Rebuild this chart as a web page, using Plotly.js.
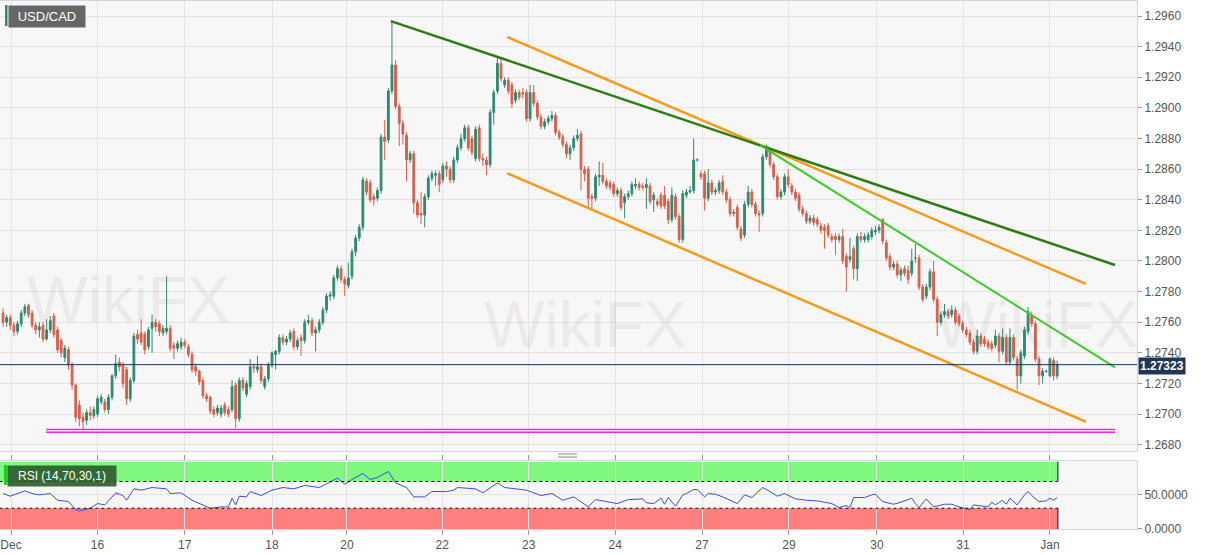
<!DOCTYPE html>
<html>
<head>
<meta charset="utf-8">
<script src="https://cdn.plot.ly/plotly-3.0.1.min.js"></script>
<style>
html,body{margin:0;padding:0;background:#fff;}
#chart{width:1207px;height:555px;}
</style>
</head>
<body>
<div id="chart"></div>
<script>
// ---- Hourly USD/CAD candles ----
const open = [1.2766,1.2760,1.2763,1.2758,1.2754,1.2759,1.2766,1.2771,1.2766,1.2758,1.2755,1.2758,1.2749,1.2755,1.2764,1.2755,1.2748,1.2737,1.2742,1.2732,1.2719,1.2706,1.2698,1.2696,1.2701,1.2699,1.2700,1.2708,1.2708,1.2703,1.2711,1.2725,1.2734,1.2732,1.2729,1.2710,1.2722,1.2752,1.2753,1.2752,1.2744,1.2756,1.2760,1.2759,1.2753,1.2754,1.2756,1.2745,1.2743,1.2744,1.2747,1.2744,1.2739,1.2731,1.2728,1.2722,1.2712,1.2711,1.2703,1.2701,1.2700,1.2706,1.2703,1.2703,1.2719,1.2697,1.2722,1.2713,1.2718,1.2731,1.2729,1.2731,1.2718,1.2723,1.2732,1.2739,1.2741,1.2750,1.2747,1.2749,1.2754,1.2744,1.2750,1.2748,1.2760,1.2761,1.2753,1.2755,1.2760,1.2768,1.2777,1.2777,1.2789,1.2795,1.2788,1.2784,1.2790,1.2806,1.2815,1.2822,1.2852,1.2851,1.2842,1.2841,1.2846,1.2881,1.2879,1.2911,1.2928,1.2901,1.2890,1.2882,1.2866,1.2870,1.2838,1.2831,1.2830,1.2842,1.2854,1.2856,1.2857,1.2853,1.2862,1.2860,1.2853,1.2866,1.2874,1.2880,1.2887,1.2880,1.2867,1.2887,1.2867,1.2866,1.2863,1.2897,1.2911,1.2929,1.2915,1.2918,1.2915,1.2905,1.2910,1.2910,1.2910,1.2893,1.2910,1.2903,1.2894,1.2888,1.2891,1.2893,1.2895,1.2884,1.2881,1.2876,1.2870,1.2874,1.2880,1.2883,1.2860,1.2860,1.2842,1.2841,1.2855,1.2856,1.2852,1.2851,1.2850,1.2844,1.2846,1.2838,1.2842,1.2844,1.2849,1.2850,1.2849,1.2848,1.2849,1.2840,1.2839,1.2843,1.2843,1.2839,1.2827,1.2842,1.2829,1.2814,1.2843,1.2845,1.2846,1.2866,1.2857,1.2857,1.2841,1.2851,1.2845,1.2846,1.2852,1.2845,1.2840,1.2832,1.2835,1.2821,1.2817,1.2837,1.2845,1.2837,1.2831,1.2831,1.2868,1.2872,1.2863,1.2855,1.2842,1.2845,1.2855,1.2849,1.2845,1.2843,1.2834,1.2831,1.2826,1.2828,1.2827,1.2823,1.2822,1.2823,1.2816,1.2816,1.2814,1.2816,1.2803,1.2801,1.2808,1.2795,1.2816,1.2814,1.2814,1.2816,1.2819,1.2820,1.2827,1.2812,1.2803,1.2796,1.2798,1.2791,1.2795,1.2794,1.2792,1.2802,1.2802,1.2783,1.2777,1.2783,1.2793,1.2775,1.2760,1.2765,1.2767,1.2765,1.2768,1.2764,1.2759,1.2755,1.2753,1.2747,1.2741,1.2751,1.2749,1.2747,1.2746,1.2745,1.2751,1.2741,1.2750,1.2734,1.2750,1.2736,1.2725,1.2738,1.2754,1.2764,1.2759,1.2736,1.2725,1.2728,1.2725,1.2735,1.2725];
const high = [1.2769,1.2765,1.2765,1.2760,1.2761,1.2768,1.2772,1.2772,1.2768,1.2760,1.2760,1.2760,1.2762,1.2764,1.2766,1.2757,1.2750,1.2745,1.2744,1.2734,1.2720,1.2709,1.2701,1.2703,1.2705,1.2705,1.2712,1.2713,1.2710,1.2713,1.2726,1.2739,1.2737,1.2734,1.2731,1.2724,1.2753,1.2755,1.2762,1.2754,1.2757,1.2765,1.2762,1.2761,1.2758,1.2790,1.2758,1.2747,1.2748,1.2750,1.2749,1.2746,1.2741,1.2733,1.2729,1.2724,1.2714,1.2712,1.2705,1.2706,1.2706,1.2708,1.2705,1.2722,1.2721,1.2724,1.2724,1.2722,1.2736,1.2733,1.2738,1.2733,1.2725,1.2734,1.2741,1.2742,1.2752,1.2752,1.2751,1.2755,1.2756,1.2750,1.2752,1.2762,1.2765,1.2763,1.2757,1.2762,1.2770,1.2779,1.2780,1.2791,1.2797,1.2797,1.2790,1.2799,1.2808,1.2817,1.2824,1.2855,1.2854,1.2853,1.2844,1.2848,1.2883,1.2892,1.2913,1.2957,1.2931,1.2903,1.2892,1.2884,1.2872,1.2872,1.2840,1.2845,1.2844,1.2856,1.2859,1.2859,1.2859,1.2864,1.2865,1.2862,1.2868,1.2876,1.2883,1.2889,1.2889,1.2882,1.2888,1.2889,1.2870,1.2868,1.2899,1.2912,1.2933,1.2932,1.2920,1.2920,1.2917,1.2912,1.2912,1.2913,1.2912,1.2915,1.2915,1.2905,1.2896,1.2893,1.2895,1.2898,1.2897,1.2886,1.2883,1.2878,1.2876,1.2882,1.2886,1.2885,1.2862,1.2862,1.2844,1.2857,1.2865,1.2864,1.2854,1.2853,1.2852,1.2848,1.2848,1.2844,1.2846,1.2852,1.2854,1.2852,1.2851,1.2854,1.2851,1.2845,1.2841,1.2845,1.2849,1.2841,1.2848,1.2844,1.2831,1.2846,1.2847,1.2849,1.2880,1.2867,1.2859,1.2859,1.2860,1.2853,1.2848,1.2853,1.2856,1.2847,1.2842,1.2834,1.2837,1.2823,1.2839,1.2849,1.2847,1.2839,1.2833,1.2870,1.2876,1.2874,1.2865,1.2857,1.2847,1.2857,1.2860,1.2851,1.2847,1.2845,1.2836,1.2833,1.2830,1.2830,1.2829,1.2825,1.2824,1.2825,1.2818,1.2818,1.2818,1.2821,1.2805,1.2815,1.2810,1.2818,1.2819,1.2818,1.2819,1.2822,1.2823,1.2824,1.2828,1.2814,1.2805,1.2800,1.2800,1.2796,1.2797,1.2797,1.2808,1.2811,1.2804,1.2785,1.2785,1.2795,1.2800,1.2777,1.2767,1.2772,1.2769,1.2771,1.2770,1.2766,1.2761,1.2757,1.2755,1.2749,1.2755,1.2753,1.2751,1.2749,1.2748,1.2755,1.2753,1.2756,1.2752,1.2756,1.2752,1.2738,1.2742,1.2757,1.2770,1.2767,1.2761,1.2738,1.2730,1.2729,1.2737,1.2737,1.2735];
const low = [1.2757,1.2757,1.2755,1.2751,1.2752,1.2757,1.2764,1.2763,1.2756,1.2752,1.2750,1.2747,1.2748,1.2753,1.2750,1.2740,1.2737,1.2734,1.2729,1.2716,1.2695,1.2692,1.2690,1.2693,1.2696,1.2697,1.2698,1.2706,1.2701,1.2700,1.2709,1.2723,1.2728,1.2717,1.2706,1.2708,1.2720,1.2746,1.2745,1.2739,1.2742,1.2740,1.2754,1.2751,1.2751,1.2752,1.2741,1.2736,1.2741,1.2742,1.2743,1.2737,1.2727,1.2725,1.2719,1.2710,1.2708,1.2700,1.2698,1.2699,1.2698,1.2699,1.2698,1.2701,1.2691,1.2695,1.2715,1.2711,1.2716,1.2727,1.2727,1.2720,1.2716,1.2721,1.2730,1.2729,1.2739,1.2745,1.2745,1.2747,1.2742,1.2742,1.2738,1.2746,1.2758,1.2751,1.2741,1.2753,1.2758,1.2766,1.2774,1.2775,1.2787,1.2786,1.2777,1.2782,1.2788,1.2803,1.2813,1.2820,1.2843,1.2838,1.2836,1.2839,1.2844,1.2866,1.2877,1.2909,1.2899,1.2875,1.2876,1.2852,1.2864,1.2831,1.2828,1.2824,1.2822,1.2840,1.2852,1.2849,1.2845,1.2851,1.2855,1.2851,1.2851,1.2864,1.2872,1.2878,1.2872,1.2869,1.2865,1.2865,1.2862,1.2856,1.2861,1.2889,1.2909,1.2917,1.2913,1.2909,1.2900,1.2903,1.2905,1.2906,1.2891,1.2891,1.2901,1.2892,1.2886,1.2886,1.2889,1.2891,1.2882,1.2879,1.2874,1.2867,1.2866,1.2872,1.2878,1.2846,1.2852,1.2835,1.2834,1.2839,1.2849,1.2850,1.2847,1.2846,1.2842,1.2842,1.2833,1.2828,1.2840,1.2842,1.2847,1.2846,1.2846,1.2834,1.2837,1.2832,1.2835,1.2834,1.2834,1.2824,1.2825,1.2827,1.2812,1.2812,1.2841,1.2844,1.2844,1.2865,1.2853,1.2833,1.2839,1.2843,1.2843,1.2844,1.2843,1.2838,1.2829,1.2829,1.2820,1.2813,1.2815,1.2835,1.2835,1.2829,1.2819,1.2829,1.2866,1.2861,1.2853,1.2840,1.2840,1.2843,1.2848,1.2843,1.2839,1.2832,1.2829,1.2824,1.2824,1.2823,1.2822,1.2818,1.2808,1.2815,1.2812,1.2804,1.2812,1.2798,1.2780,1.2799,1.2788,1.2787,1.2812,1.2812,1.2812,1.2814,1.2817,1.2818,1.2811,1.2800,1.2794,1.2794,1.2789,1.2787,1.2790,1.2785,1.2790,1.2799,1.2781,1.2773,1.2775,1.2781,1.2773,1.2751,1.2758,1.2763,1.2762,1.2763,1.2758,1.2757,1.2753,1.2750,1.2745,1.2739,1.2739,1.2744,1.2744,1.2742,1.2741,1.2743,1.2734,1.2739,1.2732,1.2732,1.2735,1.2716,1.2720,1.2736,1.2752,1.2757,1.2734,1.2719,1.2720,1.2727,1.2724,1.2722,1.2723];
const close = [1.2760,1.2763,1.2758,1.2754,1.2759,1.2766,1.2770,1.2765,1.2758,1.2755,1.2757,1.2749,1.2755,1.2761,1.2752,1.2742,1.2740,1.2743,1.2732,1.2719,1.2698,1.2697,1.2695,1.2701,1.2699,1.2703,1.2710,1.2711,1.2703,1.2711,1.2725,1.2733,1.2731,1.2720,1.2710,1.2722,1.2751,1.2749,1.2747,1.2742,1.2755,1.2760,1.2757,1.2754,1.2756,1.2756,1.2743,1.2743,1.2746,1.2747,1.2745,1.2739,1.2729,1.2728,1.2721,1.2712,1.2710,1.2702,1.2700,1.2704,1.2704,1.2701,1.2700,1.2718,1.2697,1.2722,1.2717,1.2720,1.2731,1.2730,1.2731,1.2722,1.2723,1.2732,1.2740,1.2741,1.2750,1.2747,1.2749,1.2753,1.2744,1.2748,1.2748,1.2760,1.2761,1.2753,1.2755,1.2760,1.2768,1.2777,1.2778,1.2789,1.2795,1.2788,1.2785,1.2789,1.2806,1.2815,1.2822,1.2853,1.2845,1.2840,1.2840,1.2846,1.2881,1.2878,1.2911,1.2928,1.2901,1.2890,1.2883,1.2866,1.2870,1.2838,1.2830,1.2830,1.2842,1.2854,1.2857,1.2857,1.2850,1.2862,1.2860,1.2853,1.2866,1.2874,1.2880,1.2887,1.2874,1.2871,1.2886,1.2867,1.2866,1.2863,1.2897,1.2910,1.2929,1.2919,1.2918,1.2911,1.2903,1.2910,1.2907,1.2909,1.2893,1.2910,1.2903,1.2894,1.2888,1.2891,1.2893,1.2895,1.2884,1.2881,1.2876,1.2870,1.2874,1.2880,1.2882,1.2860,1.2857,1.2841,1.2841,1.2855,1.2856,1.2852,1.2849,1.2848,1.2844,1.2846,1.2835,1.2842,1.2844,1.2850,1.2850,1.2848,1.2848,1.2850,1.2839,1.2843,1.2837,1.2836,1.2836,1.2827,1.2843,1.2829,1.2814,1.2844,1.2845,1.2846,1.2866,1.2866,1.2855,1.2841,1.2851,1.2845,1.2846,1.2851,1.2845,1.2840,1.2831,1.2831,1.2822,1.2815,1.2837,1.2845,1.2837,1.2831,1.2830,1.2868,1.2873,1.2863,1.2855,1.2842,1.2845,1.2855,1.2850,1.2845,1.2841,1.2834,1.2831,1.2826,1.2828,1.2825,1.2824,1.2820,1.2820,1.2817,1.2814,1.2814,1.2816,1.2800,1.2796,1.2803,1.2795,1.2816,1.2814,1.2816,1.2817,1.2820,1.2820,1.2822,1.2813,1.2802,1.2796,1.2798,1.2791,1.2794,1.2792,1.2788,1.2800,1.2802,1.2783,1.2775,1.2783,1.2793,1.2775,1.2760,1.2765,1.2767,1.2764,1.2768,1.2760,1.2759,1.2755,1.2752,1.2747,1.2741,1.2751,1.2746,1.2746,1.2744,1.2743,1.2751,1.2741,1.2750,1.2734,1.2750,1.2737,1.2725,1.2740,1.2755,1.2767,1.2759,1.2736,1.2725,1.2728,1.2728,1.2736,1.2725,1.27323];

// ---- RSI(14) readings (candle index, value) ----
const rsiIdx = [0,2,6,8,10,13,15,18,20,21,24,26,28,31,33,34,36,38,41,45,46,49,52,55,57,60,62,63,64,65,67,68,71,74,77,80,83,87,90,92,94,96,99,101,103,105,106,108,111,113,116,118,122,124,125,130,132,136,138,144,148,151,154,157,159,161,163,166,169,172,176,177,179,181,182,183,185,187,188,190,191,193,194,196,198,202,204,206,209,211,213,215,218,221,224,228,230,232,233,234,237,239,240,242,245,247,250,251,252,254,256,259,261,263,266,267,270,271,272,273,275,276,277,279,281,282,283,285,287,288,289,290];
const rsiVal = [52,48,56,52,50,52,42,40,28,26,30,37,35,53,49,42,59,57,61,59,52,53,42,35,30,32,32,45,35,48,47,55,49,57,61,59,64,61,70,75,66,73,82,73,76,82,85,68,61,47,47,55,55,57,61,59,53,68,61,57,49,52,42,47,40,32,43,40,37,43,44,38,37,45,36,46,33,50,52,58,58,47,52,51,47,37,50,46,61,55,48,52,44,42,41,37,31,34,31,46,46,50,51,40,36,39,45,37,31,44,32,36,36,32,28,35,32,32,39,35,42,36,45,35,50,55,49,40,41,45,42,46];
const rsiUpper = 70, rsiLower = 30, rsiMax = 100, rsiMin = 0;
const rsiBandEnd = 290.2;

// ---- Drawn studies (candle index, price) ----
const darkGreenLineX = [106.7, 305.9], darkGreenLineY = [1.29567, 1.27974];
const lightGreenLineX = [208.3, 305.9], lightGreenLineY = [1.28757, 1.27305];
const orangeTopX = [138.7, 297.9], orangeTopY = [1.29463, 1.27850];
const orangeBotX = [138.7, 297.9], orangeBotY = [1.28573, 1.26950];
const supportX = [11.9, 305.9], supportY = [1.26891, 1.26891];

// ---- Axis ticks ----
const tickPos = [2.2, 26, 50, 74, 94.6, 120.8, 144.6, 168.4, 192.3, 216.2, 240.4, 264.1, 288];
const tickLabels = ['Dec','16','17','18','20','22','23','24','27','29','30','31','Jan'];
const priceTicks = [1.2680,1.2700,1.2720,1.2740,1.2760,1.2780,1.2800,1.2820,1.2840,1.2860,1.2880,1.2900,1.2920,1.2940,1.2960];
const symbol = 'USD/CAD';
const rsiLabel = 'RSI (14,70,30,1)';

const idx = open.map((_, i) => i);
const last = close[close.length - 1];

const UP = '#2e8a6e', DN = '#d4604b';
const FONT = 'Liberation Sans, Arial, sans-serif';

const traces = [
  {type:'scatter', mode:'lines', x:supportX, y:supportY, line:{color:'#ee22ee', width:4.2}, hoverinfo:'skip'},
  {type:'scatter', mode:'lines', x:supportX, y:supportY, line:{color:'#fcdcfc', width:1.4}, hoverinfo:'skip'},
  {type:'candlestick', x:idx, open:open, high:high, low:low, close:close, xaxis:'x', yaxis:'y',
   increasing:{line:{color:UP, width:1}, fillcolor:UP},
   decreasing:{line:{color:DN, width:1}, fillcolor:DN},
   whiskerwidth:0, hoverinfo:'skip'},
  {type:'scatter', mode:'lines', x:orangeTopX, y:orangeTopY, line:{color:'#f99a1c', width:2.5}, hoverinfo:'skip'},
  {type:'scatter', mode:'lines', x:orangeBotX, y:orangeBotY, line:{color:'#f99a1c', width:2.5}, hoverinfo:'skip'},
  {type:'scatter', mode:'lines', x:darkGreenLineX, y:darkGreenLineY, line:{color:'#2d7d14', width:2.5}, hoverinfo:'skip'},
  {type:'scatter', mode:'lines', x:lightGreenLineX, y:lightGreenLineY, line:{color:'#3ccc28', width:2}, hoverinfo:'skip'},
  {type:'scatter', mode:'lines', x:rsiIdx, y:rsiVal, xaxis:'x', yaxis:'y2', line:{color:'#3a4fd0', width:1}, hoverinfo:'skip'}
];

function px2x(p){ return p/1137; }
function py2y(p){ return (529 - p)/528; }

const shapes = [
  // current price line
  {type:'line', xref:'paper', x0:0, x1:1, yref:'y', y0:last, y1:last, line:{color:'#1c3557', width:1}, layer:'above'},
  // RSI bands
  {type:'rect', xref:'x', x0:-1, x1:rsiBandEnd, yref:'y2', y0:rsiUpper, y1:rsiMax, fillcolor:'#80f77f', line:{width:0}, layer:'below'},
  {type:'rect', xref:'x', x0:-1, x1:rsiBandEnd, yref:'y2', y0:rsiMin-1, y1:rsiLower, fillcolor:'#ff7f7f', line:{width:0}, layer:'below'},
  {type:'line', xref:'x', x0:-1, x1:rsiBandEnd, yref:'y2', y0:rsiUpper, y1:rsiUpper, line:{color:'#111', width:1, dash:'dot'}},
  {type:'line', xref:'x', x0:-1, x1:rsiBandEnd, yref:'y2', y0:rsiLower, y1:rsiLower, line:{color:'#111', width:1, dash:'dot'}},
  {type:'line', xref:'x', x0:rsiBandEnd, x1:rsiBandEnd, yref:'y2', y0:rsiUpper, y1:rsiMax, line:{color:'#111', width:1}},
  {type:'line', xref:'x', x0:rsiBandEnd, x1:rsiBandEnd, yref:'y2', y0:rsiMin-1, y1:rsiLower, line:{color:'#111', width:1}},
  // label stripes
  {type:'rect', xref:'paper', yref:'paper', x0:px2x(5), x1:px2x(7.5), y0:py2y(26), y1:py2y(5), fillcolor:'#2f8a74', line:{width:0}, layer:'above'},
  {type:'rect', xref:'paper', yref:'paper', x0:px2x(4), x1:px2x(7), y0:py2y(485), y1:py2y(465), fillcolor:'#22cc22', line:{width:0}, layer:'above'},
  // splitter grip
  {type:'line', xref:'paper', yref:'paper', x0:px2x(558), x1:px2x(577), y0:py2y(454), y1:py2y(454), line:{color:'#888', width:1}},
  {type:'line', xref:'paper', yref:'paper', x0:px2x(558), x1:px2x(577), y0:py2y(457), y1:py2y(457), line:{color:'#888', width:1}}
];

const annotations = [
  {xref:'paper', yref:'paper', x:px2x(585), y:py2y(325), text:'WikiFX', showarrow:false, font:{family:FONT, size:64, color:'rgba(120,100,100,0.09)'}},
  {xref:'paper', yref:'paper', x:px2x(1140), y:py2y(325), text:'WikiFX', showarrow:false, font:{family:FONT, size:64, color:'rgba(120,100,100,0.09)'}},
  {xref:'paper', yref:'paper', x:px2x(25), y:py2y(300), text:'WikiFX', showarrow:false, font:{family:FONT, size:64, color:'rgba(120,100,100,0.09)'}},
  {xref:'paper', yref:'paper', x:px2x(7.5), y:py2y(5), xanchor:'left', yanchor:'top', text:symbol, showarrow:false,
   bgcolor:'#666666', width:70, height:15, align:'center', borderpad:3, font:{family:FONT, size:13, color:'#ffffff'}},
  {xref:'paper', yref:'paper', x:px2x(7), y:py2y(465), xanchor:'left', yanchor:'top', text:rsiLabel, showarrow:false,
   bgcolor:'rgba(40,85,40,0.88)', width:102, height:14, align:'center', borderpad:3, font:{family:FONT, size:12, color:'#ffffff'}},
  {xref:'paper', yref:'y', x:1, y:last, xanchor:'left', yanchor:'middle', xshift:1, yshift:-1, text:'<b>' + last.toFixed(5) + '</b>', showarrow:false,
   bgcolor:'#1e3756', borderpad:1, font:{family:FONT, size:12, color:'#ffffff'}}
];

const layout = {
  width:1207, height:555,
  margin:{l:0, r:70, t:1, b:26, pad:0},
  paper_bgcolor:'#ffffff', plot_bgcolor:'#f7f7f8',
  showlegend:false, hovermode:false, dragmode:false,
  font:{family:FONT, size:12, color:'#555'},
  xaxis:{
    anchor:'y2', range:[-0.83, 311.96], rangeslider:{visible:false},
    tickmode:'array', tickvals:tickPos, ticktext:tickLabels, ticklabeloverflow:'allow',
    ticks:'outside', ticklen:5, tickcolor:'#999', tickfont:{family:FONT, size:12, color:'#555'},
    showgrid:true, gridcolor:'#e3e3e6', gridwidth:1, zeroline:false,
    showline:true, linecolor:'#d4d6de', mirror:'all'
  },
  yaxis:{
    domain:[0.148, 1], range:[1.26760, 1.29698], side:'right',
    tickmode:'array', tickvals:priceTicks, tickformat:'.4f',
    ticks:'outside', ticklen:4, tickcolor:'#999', tickfont:{family:FONT, size:12, color:'#555'},
    showgrid:true, gridcolor:'#e3e3e6', zeroline:false,
    showline:true, linecolor:'#d4d6de', mirror:true
  },
  yaxis2:{
    domain:[0, 0.128], range:[-1, 100], side:'right',
    tickmode:'array', tickvals:[0, 50], ticktext:['0.0000','50.0000'],
    ticks:'outside', ticklen:4, tickcolor:'#999', tickfont:{family:FONT, size:12, color:'#555'},
    showgrid:true, gridcolor:'#e3e3e6', zeroline:false,
    showline:true, linecolor:'#d4d6de', mirror:true
  },
  shapes:shapes,
  annotations:annotations
};

Plotly.newPlot('chart', traces, layout, {displayModeBar:false, staticPlot:true});
</script>
</body>
</html>
